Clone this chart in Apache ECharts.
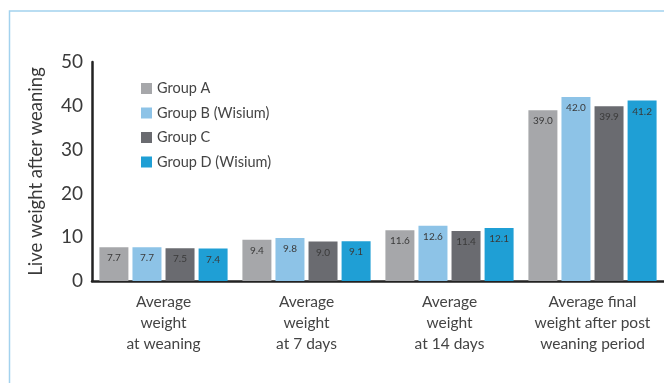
<!DOCTYPE html>
<html>
<head>
<meta charset="utf-8">
<script src="https://cdn.jsdelivr.net/npm/echarts@6/dist/echarts.min.js"></script>
<style>
  html, body { margin: 0; padding: 0; background: #fff; }
  #chart { width: 664px; height: 383px; }
</style>
</head>
<body>
<div id="chart"></div>
<script>
// categories and series values
const categories = [
  'Average\nweight\nat weaning',
  'Average\nweight\nat 7 days',
  'Average\nweight\nat 14 days',
  'Average final\nweight after post\nweaning period'
]
const groupNames = ['Group A', 'Group B (Wisium)', 'Group C', 'Group D (Wisium)']
const groupA = [7.7, 9.4, 11.6, 39.0]
const groupB = [7.7, 9.8, 12.6, 42.0]
const groupC = [7.5, 9.0, 11.4, 39.9]
const groupD = [7.4, 9.1, 12.1, 41.2]
const yTicks = [0, 10, 20, 30, 40, 50]

const colors = ['#a6a7aa', '#8dc3e7', '#6a6b70', '#1f9fd5']
const FONT = 'Lato'

const chart = echarts.init(document.getElementById('chart'))

const makeSeries = (name, values, i) => ({
  name,
  type: 'bar',
  data: values,
  barWidth: 29,
  barGap: '14%',
  itemStyle: { color: colors[i] },
  label: {
    show: true,
    position: 'insideTop',
    distance: 6,
    fontFamily: FONT,
    fontSize: 10,
    color: '#3a3a3a',
    formatter: (p) => p.value.toFixed(1)
  }
})

chart.setOption({
  animation: false,
  textStyle: { fontFamily: FONT },
  color: colors,
  graphic: [{
    type: 'rect',
    shape: { x: 9.5, y: 11, width: 700, height: 420 },
    style: { fill: 'none', stroke: '#a3d2ee', lineWidth: 1.5 },
    silent: true
  }],
  legend: {
    orient: 'vertical',
    left: 136,
    top: 76,
    itemWidth: 11,
    itemHeight: 11,
    itemGap: 9.5,
    icon: 'rect',
    data: groupNames,
    textStyle: { fontFamily: FONT, fontSize: 14.5, color: '#444' }
  },
  grid: { left: 92, right: 0, top: 62, bottom: 102 },
  xAxis: {
    type: 'category',
    data: categories,
    axisLine: { lineStyle: { color: '#222', width: 2.5 } },
    axisTick: { show: false },
    axisLabel: {
      interval: 0,
      margin: 10,
      fontFamily: FONT,
      fontSize: 15.5,
      lineHeight: 21,
      color: '#444'
    }
  },
  yAxis: {
    type: 'value',
    min: yTicks[0],
    max: yTicks[yTicks.length - 1],
    interval: 10,
    name: 'Live weight after weaning',
    nameLocation: 'middle',
    nameRotate: 90,
    nameGap: 46,
    nameTextStyle: { fontFamily: FONT, fontSize: 18.5, color: '#3a3a3a' },
    axisLine: { show: true, lineStyle: { color: '#222', width: 2.5 } },
    axisTick: { show: false },
    splitLine: { show: false },
    axisLabel: { margin: 9, fontFamily: FONT, fontSize: 19, color: '#3a3a3a' }
  },
  series: [
    makeSeries(groupNames[0], groupA, 0),
    makeSeries(groupNames[1], groupB, 1),
    makeSeries(groupNames[2], groupC, 2),
    makeSeries(groupNames[3], groupD, 3)
  ]
})
</script>
</body>
</html>
